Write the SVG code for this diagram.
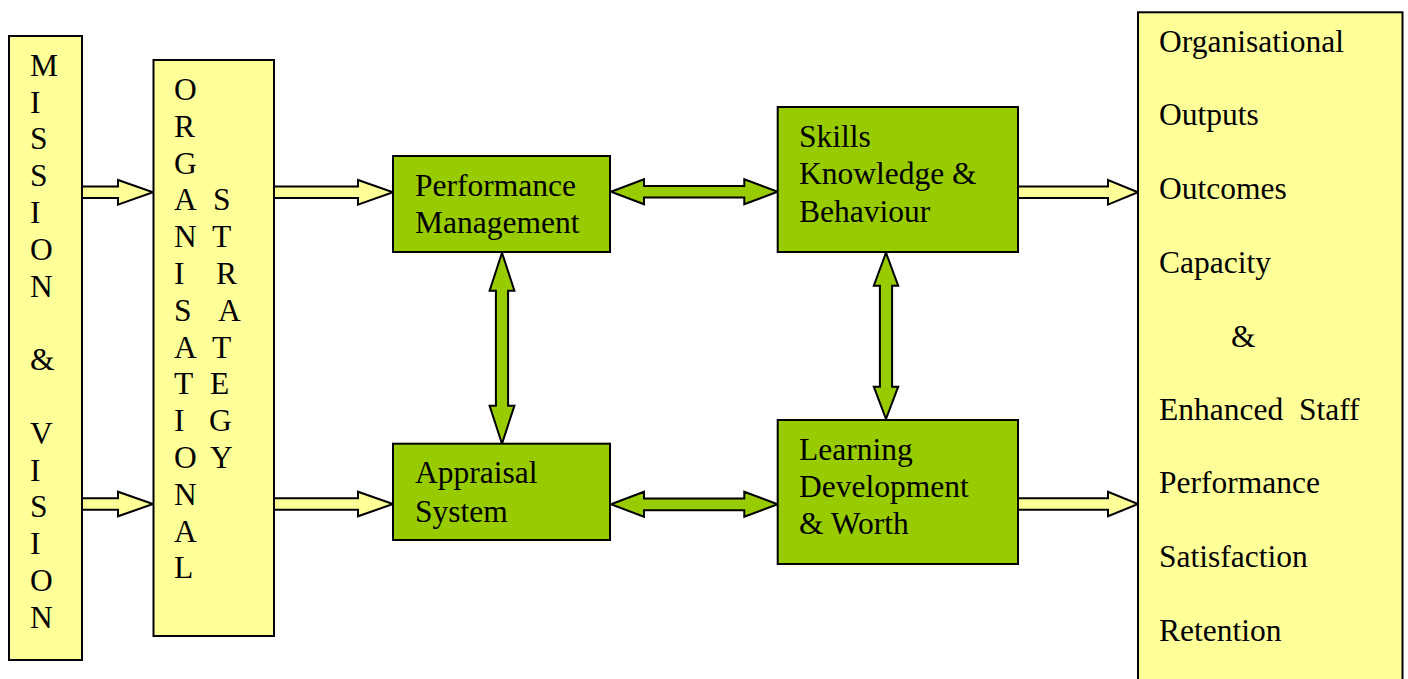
<svg xmlns="http://www.w3.org/2000/svg" width="1408" height="679" viewBox="0 0 1408 679">
  <style>
    .pale { fill: #FFFF99; stroke: #000; stroke-width: 2; }
    .green { fill: #99CC00; stroke: #000; stroke-width: 2; }
    .arrow-pale { fill: #FFFF99; stroke: #000; stroke-width: 2; stroke-linejoin: miter; }
    .arrow-green { fill: #99CC00; stroke: #000; stroke-width: 2; stroke-linejoin: miter; }
    text { font-family: "Liberation Serif", "Times New Roman", serif; font-size: 31.5px; fill: #000; }
  </style>
  <rect width="1408" height="679" fill="#fff"/>

  <!-- connectors -->
  <g id="connectors">
    <!-- mission & vision to organisational strategy -->
    <polygon class="arrow-pale" points="80,186.6 118,186.6 118,180 153,192.3 118,204.6 118,198 80,198"/>
    <polygon class="arrow-pale" points="80,498.3 118,498.3 118,491.7 153,504 118,516.3 118,509.7 80,509.7"/>
    <!-- strategy to performance management / appraisal -->
    <polygon class="arrow-pale" points="272,186.6 358,186.6 358,180 393,192.3 358,204.6 358,198 272,198"/>
    <polygon class="arrow-pale" points="272,498.3 358,498.3 358,491.7 393,504 358,516.3 358,509.7 272,509.7"/>
    <!-- to organisational outputs -->
    <polygon class="arrow-pale" points="1016,186.6 1108,186.6 1108,180 1138,192.3 1108,204.6 1108,198 1016,198"/>
    <polygon class="arrow-pale" points="1016,498.3 1108,498.3 1108,491.7 1138,504 1108,516.3 1108,509.7 1016,509.7"/>
    <!-- horizontal two-way links -->
    <polygon class="arrow-green" points="611,191.8 644,179.3 644,186 744.3,186 744.3,179.3 777.7,191.8 744.3,204.3 744.3,197.6 644,197.6 644,204.3"/>
    <polygon class="arrow-green" points="611,504.3 644,491.8 644,498.4 744.3,498.4 744.3,491.8 777.7,504.3 744.3,516.8 744.3,510.2 644,510.2 644,516.8"/>
    <!-- vertical two-way links -->
    <polygon class="arrow-green" points="502,252.7 514.4,290.7 508.1,290.7 508.1,405.7 514.4,405.7 502,443.7 489.6,405.7 495.9,405.7 495.9,290.7 489.6,290.7"/>
    <polygon class="arrow-green" points="886,252.7 898.2,285.7 892.1,285.7 892.1,386.7 898.2,386.7 886,419 873.8,386.7 879.9,386.7 879.9,285.7 873.8,285.7"/>
  </g>

  <!-- mission & vision -->
  <g id="mission-vision">
    <rect class="pale" x="9" y="36" width="73" height="624"/>
    <text x="30" y="75.7">M</text>
    <text x="30" y="112.5">I</text>
    <text x="30" y="149.3">S</text>
    <text x="30" y="186.1">S</text>
    <text x="30" y="222.9">I</text>
    <text x="30" y="259.7">O</text>
    <text x="30" y="296.5">N</text>
    <text x="30" y="370.1">&amp;</text>
    <text x="30" y="443.7">V</text>
    <text x="30" y="480.5">I</text>
    <text x="30" y="517.3">S</text>
    <text x="30" y="554.1">I</text>
    <text x="30" y="590.9">O</text>
    <text x="30" y="627.7">N</text>
  </g>

  <!-- organisational strategy -->
  <g id="organisational-strategy">
    <rect class="pale" x="153.5" y="60" width="120.5" height="576"/>
    <text x="174" y="100">O</text>
    <text x="174" y="136.8">R</text>
    <text x="174" y="173.6">G</text>
    <text x="174" y="210.4">A</text>
    <text x="174" y="247.2">N</text>
    <text x="174" y="284">I</text>
    <text x="174" y="320.8">S</text>
    <text x="174" y="357.6">A</text>
    <text x="174" y="394.4">T</text>
    <text x="174" y="431.2">I</text>
    <text x="174" y="468">O</text>
    <text x="174" y="504.8">N</text>
    <text x="174" y="541.6">A</text>
    <text x="174" y="578.4">L</text>
    <text x="213" y="210.4">S</text>
    <text x="212" y="247.2">T</text>
    <text x="216" y="284">R</text>
    <text x="218" y="320.8">A</text>
    <text x="212" y="357.6">T</text>
    <text x="210" y="394.4">E</text>
    <text x="209" y="431.2">G</text>
    <text x="210" y="468">Y</text>
  </g>

  <!-- performance management -->
  <g id="performance-management">
    <rect class="green" x="393" y="156" width="217" height="96"/>
    <text x="415" y="195.7">Performance</text>
    <text x="415" y="232.7">Management</text>
  </g>

  <!-- appraisal system -->
  <g id="appraisal-system">
    <rect class="green" x="393" y="443.7" width="217" height="96.3"/>
    <text x="415" y="483.3">Appraisal</text>
    <text x="415" y="521.7">System</text>
  </g>

  <!-- skills knowledge & behaviour -->
  <g id="skills-knowledge">
    <rect class="green" x="777.7" y="107" width="240.3" height="145"/>
    <text x="799" y="146.7">Skills</text>
    <text x="799" y="183.5">Knowledge &amp;</text>
    <text x="799" y="221.7">Behaviour</text>
  </g>

  <!-- learning development & worth -->
  <g id="learning-development">
    <rect class="green" x="777.7" y="420" width="240.3" height="144"/>
    <text x="799" y="460">Learning</text>
    <text x="799" y="496.7">Development</text>
    <text x="799" y="534.3">&amp; Worth</text>
  </g>

  <!-- organisational outputs -->
  <g id="organisational-outputs">
    <rect class="pale" x="1138" y="12.3" width="264.5" height="680"/>
    <text x="1159" y="51.7">Organisational</text>
    <text x="1159" y="125.2">Outputs</text>
    <text x="1159" y="198.7">Outcomes</text>
    <text x="1159" y="273">Capacity</text>
    <text x="1231" y="346.5">&amp;</text>
    <text x="1159" y="420" xml:space="preserve">Enhanced  Staff</text>
    <text x="1159" y="493.3">Performance</text>
    <text x="1159" y="566.7">Satisfaction</text>
    <text x="1159" y="640.5">Retention</text>
  </g>
</svg>
